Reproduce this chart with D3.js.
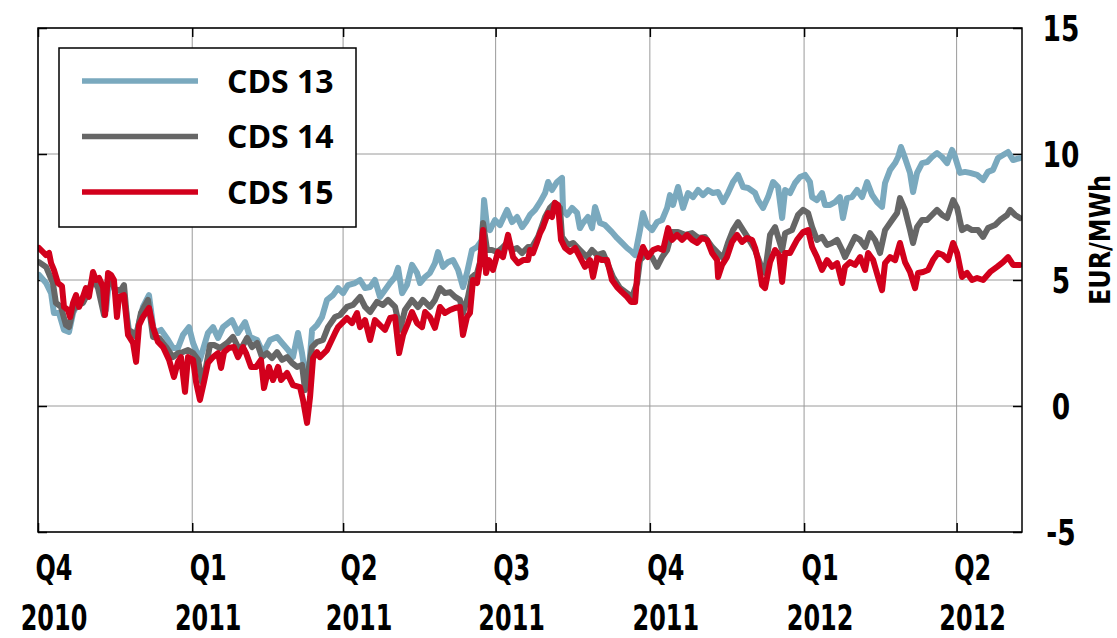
<!DOCTYPE html>
<html>
<head>
<meta charset="utf-8">
<script src="https://cdn.jsdelivr.net/npm/d3@7"></script>
<style>
body { margin: 0; background: #fff; }
svg text { font-family: "Liberation Sans Narrow", "DejaVu Sans Condensed", sans-serif; font-weight: bold; fill: #000; }
svg .legend text { font-family: "Open Sans", "Liberation Sans", sans-serif; }
</style>
</head>
<body>
<svg id="chart"></svg>
<script>
// days since 2010-10-01, EUR/MWh
let cds13 = [[0.6,5.20],[4.8,4.88],[7.8,4.48],[9.5,3.69],[12.5,3.69],[15.5,3.02],[18.5,2.94],[20.9,3.69],[23.9,4.09],[27.4,4.21],[30.4,4.60],[33.4,5.00],[36.4,4.72],[40.6,3.81],[42.4,5.00],[46.5,4.52],[50.7,4.52],[54.3,3.02],[58.5,2.82],[62.6,3.93],[66.2,4.40],[69.2,2.90],[73.4,3.02],[77.6,2.62],[80.5,2.30],[83.5,2.30],[86.5,2.82],[90.1,3.13],[92.5,2.50],[96.6,1.83],[101.4,2.90],[104.4,3.13],[107.4,2.70],[110.4,3.13],[115.7,3.41],[119.3,2.90],[123.5,3.33],[126.5,2.74],[130.7,2.62],[134.2,2.10],[138.4,2.62],[142.6,2.74],[145.6,2.50],[149.2,2.22],[152.1,1.94],[155.1,2.90],[157.5,2.10],[159.3,1.31],[161.1,1.03],[163.5,3.02],[166.4,3.21],[169.4,3.53],[172.4,4.21],[176.0,4.40],[179.0,4.68],[182.0,4.48],[184.9,4.80],[189.1,4.88],[192.1,5.00],[195.1,4.68],[198.1,4.72],[201.0,5.00],[204.0,4.33],[207.0,4.60],[210.0,4.88],[213.0,5.12],[214.8,5.48],[217.2,4.48],[220.1,4.80],[223.1,5.60],[226.1,5.28],[227.9,4.88],[230.9,5.12],[233.8,5.28],[236.8,5.67],[238.6,6.11],[241.6,5.52],[244.6,5.71],[247.6,5.79],[250.6,5.40],[253.5,4.72],[255.9,5.28],[258.9,6.19],[261.9,6.31],[264.9,6.59],[266.1,8.17],[267.9,7.10],[269.6,6.98],[272.6,7.38],[275.6,7.18],[279.8,7.78],[282.8,7.30],[285.8,7.50],[288.8,7.10],[291.1,7.30],[293.5,7.58],[296.5,7.78],[299.5,8.09],[302.5,8.45],[304.3,8.89],[306.6,8.57],[309.6,8.89],[312.6,9.05],[313.2,7.78],[315.6,7.58],[318.6,7.86],[321.6,7.66],[323.3,7.06],[325.1,7.26],[328.1,7.50],[330.5,7.06],[332.3,7.90],[335.3,7.26],[338.3,7.18],[342.4,6.90],[345.4,6.67],[348.4,6.47],[351.4,6.27],[354.4,6.11],[356.2,5.99],[359.1,6.98],[360.9,7.66],[363.3,7.18],[366.3,6.98],[369.3,7.30],[372.3,7.38],[375.3,7.86],[377.0,8.37],[378.8,7.98],[381.8,8.69],[384.8,7.86],[387.8,8.45],[390.8,8.29],[393.8,8.57],[396.7,8.37],[399.7,8.57],[402.7,8.45],[405.7,8.49],[408.7,8.09],[411.6,8.45],[414.6,8.89],[417.6,9.17],[420.6,8.69],[423.6,8.65],[427.8,8.45],[429.5,8.17],[432.5,7.86],[435.5,8.29],[438.5,8.89],[441.5,8.69],[443.9,7.46],[445.7,8.57],[448.6,8.45],[451.6,8.85],[454.6,9.09],[457.6,9.17],[460.5,8.89],[461.8,8.29],[464.7,8.17],[467.7,8.45],[469.5,7.98],[472.5,7.98],[475.5,8.09],[478.4,8.29],[480.2,7.46],[482.6,8.25],[485.6,8.29],[488.6,8.57],[491.6,8.29],[494.6,8.89],[497.6,8.37],[500.5,8.09],[503.5,7.90],[505.3,8.85],[508.3,9.37],[511.3,9.64],[513.1,9.88],[514.8,10.28],[517.2,9.84],[520.2,9.25],[522.0,8.49],[524.4,9.25],[527.4,9.64],[530.4,9.68],[533.3,9.88],[536.3,10.04],[539.3,9.88],[542.3,9.64],[545.3,10.16],[547.1,9.88],[550.0,9.25],[553.0,9.29],[556.0,9.25],[560.2,9.17],[563.8,8.97],[566.7,9.29],[569.7,9.37],[572.7,9.84],[575.7,9.96],[578.7,10.08],[581.7,9.76],[585.8,9.84]];

let cds14 = [[0.6,5.71],[4.8,5.52],[8.9,4.88],[10.7,4.09],[13.7,3.93],[16.7,3.21],[18.5,3.13],[20.9,3.81],[23.9,4.01],[26.8,4.09],[29.8,4.48],[32.8,5.08],[35.8,4.68],[39.4,3.61],[41.8,5.08],[46.5,4.60],[49.5,4.60],[51.3,4.80],[53.7,3.02],[56.7,2.90],[58.5,2.74],[61.4,3.69],[65.6,4.21],[68.6,2.74],[72.2,2.70],[76.4,2.34],[80.5,1.94],[83.5,2.10],[86.5,2.14],[89.5,2.22],[92.5,2.10],[95.5,1.83],[97.8,0.95],[100.2,1.55],[102.6,2.42],[105.0,2.42],[108.6,2.30],[112.8,2.50],[116.3,2.74],[119.3,2.34],[121.7,2.34],[124.7,2.70],[127.7,2.34],[130.7,2.50],[133.6,1.94],[136.6,2.10],[139.6,1.90],[142.6,2.14],[145.6,1.83],[148.6,1.94],[151.5,1.71],[154.5,1.55],[157.5,1.63],[159.3,0.63],[161.1,1.31],[163.5,2.34],[166.4,2.54],[170.0,2.62],[173.0,3.13],[177.2,3.53],[180.2,3.61],[184.3,3.93],[187.9,4.01],[192.1,4.33],[195.1,3.93],[198.1,3.73],[202.2,4.13],[205.8,4.01],[208.8,4.21],[213.0,3.93],[216.0,3.02],[218.9,3.81],[223.1,4.21],[226.7,3.93],[229.7,4.21],[233.8,3.93],[236.8,4.21],[239.8,4.68],[242.8,4.48],[245.8,4.52],[248.8,4.33],[251.7,4.21],[253.5,3.69],[256.5,4.33],[258.9,5.12],[261.9,5.28],[263.7,5.71],[265.5,7.26],[267.9,6.19],[270.8,6.19],[273.8,6.11],[276.8,6.27],[279.8,6.47],[282.8,6.19],[285.8,6.27],[288.8,6.07],[292.3,6.31],[294.7,6.31],[298.3,6.71],[302.5,7.50],[305.4,7.86],[308.4,8.06],[311.4,7.86],[312.6,6.71],[316.2,6.39],[319.2,6.47],[323.3,6.19],[327.5,5.91],[330.5,6.19],[333.5,5.99],[337.1,6.07],[340.1,5.60],[343.0,5.12],[347.2,4.68],[351.4,4.48],[354.4,4.33],[357.4,4.88],[359.1,5.79],[363.3,6.07],[366.3,5.91],[369.3,5.52],[372.3,5.91],[375.3,6.19],[378.2,6.90],[381.8,6.90],[386.0,6.79],[390.2,6.86],[393.8,6.67],[397.9,6.71],[402.1,6.31],[405.7,6.07],[408.7,5.87],[411.6,6.47],[414.6,6.98],[417.6,7.30],[420.6,6.98],[423.6,6.67],[427.8,6.19],[430.7,5.67],[433.7,5.28],[436.7,6.79],[439.7,7.10],[443.9,6.19],[445.7,6.86],[449.8,6.98],[453.4,7.58],[456.4,7.78],[459.4,7.66],[461.8,7.10],[464.7,6.59],[467.7,6.71],[470.7,6.39],[473.7,6.47],[476.7,6.59],[479.7,6.19],[481.4,5.91],[484.4,6.31],[487.4,6.71],[490.4,6.59],[493.4,6.31],[496.3,6.86],[499.3,6.59],[502.3,6.07],[505.3,6.98],[509.5,7.38],[512.5,7.66],[514.2,8.25],[517.2,7.78],[520.2,6.98],[522.0,6.47],[524.4,7.10],[527.4,7.38],[530.4,7.38],[533.3,7.58],[536.3,7.78],[539.3,7.58],[542.3,7.46],[545.9,8.17],[548.3,7.86],[551.2,6.98],[554.2,7.10],[557.2,6.98],[560.8,6.98],[563.8,6.71],[566.7,7.06],[570.9,7.18],[573.9,7.38],[578.1,7.58],[579.9,7.78],[582.9,7.58],[585.8,7.46]];

let cds15 = [[0.6,6.27],[4.8,5.99],[6.6,6.07],[7.8,5.67],[9.5,5.40],[11.9,4.88],[14.3,4.76],[15.5,3.93],[17.9,3.81],[19.1,3.53],[20.9,4.09],[22.7,4.40],[24.5,3.93],[26.8,4.33],[28.6,4.68],[30.4,4.33],[32.8,5.32],[34.6,5.00],[36.4,5.08],[38.8,4.72],[40.0,3.61],[41.8,5.28],[43.6,5.20],[45.3,5.00],[47.1,3.53],[48.3,4.33],[51.3,4.40],[53.7,2.82],[56.7,2.50],[58.5,1.75],[60.3,3.21],[62.6,3.53],[66.2,3.89],[68.6,3.13],[71.6,2.54],[74.6,2.34],[78.2,1.83],[81.1,1.15],[83.5,1.75],[85.3,1.94],[87.7,0.56],[89.5,1.94],[92.5,1.83],[94.3,0.95],[96.6,0.24],[99.0,0.95],[101.4,1.71],[104.4,1.94],[107.4,2.10],[109.2,1.51],[111.0,2.14],[113.9,2.30],[116.9,2.34],[119.3,1.94],[122.3,2.34],[124.1,2.10],[127.1,1.55],[130.1,1.55],[133.0,1.83],[134.8,0.71],[137.8,1.55],[140.2,1.03],[143.2,1.55],[145.0,1.03],[148.6,1.31],[152.1,0.83],[156.3,0.75],[158.1,0.24],[160.5,-0.67],[162.3,0.36],[164.1,1.90],[166.4,2.14],[168.2,1.94],[172.4,2.22],[177.2,2.90],[179.0,3.13],[184.3,3.49],[187.3,3.29],[190.3,3.69],[192.1,3.13],[195.1,3.41],[198.1,2.62],[201.0,3.41],[204.0,3.21],[207.0,3.02],[210.0,3.49],[213.0,3.53],[215.4,2.10],[217.8,2.82],[220.7,3.29],[223.1,3.73],[226.1,3.29],[229.1,3.13],[230.9,3.73],[233.8,3.53],[236.8,3.10],[239.8,3.93],[242.8,3.69],[245.8,3.81],[248.8,3.89],[251.7,3.93],[253.5,2.82],[255.9,3.53],[257.7,3.69],[259.5,5.00],[261.9,4.88],[263.7,5.67],[265.5,6.98],[267.3,5.28],[269.1,5.79],[271.4,5.40],[274.4,6.11],[277.4,5.91],[280.4,6.79],[283.4,5.91],[286.4,5.67],[289.4,5.79],[292.3,5.79],[293.5,6.19],[295.3,6.07],[297.7,6.51],[299.5,6.86],[301.3,7.10],[304.3,7.66],[306.6,7.50],[308.4,8.06],[310.2,7.98],[312.0,6.59],[314.4,6.27],[317.4,6.11],[320.4,6.27],[323.3,5.91],[326.3,5.52],[329.3,5.79],[331.1,5.12],[333.5,5.87],[336.5,5.79],[339.5,5.79],[342.4,5.00],[345.4,4.72],[348.4,4.52],[351.4,4.33],[353.8,4.13],[356.2,4.13],[358.0,5.67],[360.9,6.31],[363.9,5.91],[366.9,6.19],[369.9,6.27],[372.9,6.19],[375.9,7.06],[378.2,6.59],[381.2,6.79],[384.2,6.59],[387.2,6.79],[390.2,6.59],[393.2,6.47],[396.1,6.67],[399.1,6.59],[402.1,6.07],[405.1,5.79],[405.7,5.12],[408.1,5.60],[411.0,5.91],[414.0,6.51],[417.0,6.79],[420.0,6.51],[423.0,6.67],[426.0,6.59],[427.8,6.27],[429.5,5.79],[431.9,4.80],[433.7,4.68],[436.7,5.71],[439.7,6.19],[442.1,5.99],[443.9,4.92],[445.7,6.07],[448.6,6.07],[452.8,6.59],[456.4,6.90],[459.4,6.98],[461.8,6.31],[464.7,5.91],[467.7,5.40],[470.7,5.79],[473.7,5.52],[476.7,5.67],[479.7,4.88],[481.4,5.52],[484.4,5.71],[487.4,5.60],[490.4,5.91],[493.4,5.40],[495.2,6.07],[498.2,5.79],[501.1,5.12],[503.5,4.60],[505.3,5.67],[508.3,5.91],[511.3,5.79],[514.2,6.47],[517.2,5.71],[520.2,5.32],[523.2,4.68],[525.0,5.28],[528.0,5.32],[531.0,5.40],[533.9,5.79],[536.9,6.07],[539.9,5.99],[542.9,5.79],[545.9,6.47],[548.3,6.07],[551.2,5.12],[554.2,5.28],[557.2,5.00],[560.2,5.08],[563.8,5.00],[568.0,5.32],[572.1,5.52],[575.7,5.71],[578.7,5.91],[581.7,5.60],[585.8,5.60]];

let seriesNames = ["CDS 13", "CDS 14", "CDS 15"];
let seriesColors = ["#7aa9be", "#666666", "#d2001c"];
let seriesData = [cds13, cds14, cds15];

let quarterStarts = ["2010-10-01", "2011-01-01", "2011-04-01", "2011-07-01", "2011-10-01", "2012-01-01", "2012-04-01"];
let quarterLabels = ["Q4", "Q1", "Q2", "Q3", "Q4", "Q1", "Q2"];
let yearLabels = ["2010", "2011", "2011", "2011", "2011", "2012", "2012"];
let yTicks = [-5, 0, 5, 10, 15];

let startDate = new Date(2010, 9, 1);
let endDate = new Date(2012, 4, 10);

let width = 1117;
let height = 638;
let plotLeft = 38, plotRight = 1022, plotTop = 28, plotBottom = 532;

let svg = d3.select("#chart").attr("width", width).attr("height", height);

let toDate = (d) => new Date(startDate.getTime() + d * 86400000);
let parse = d3.timeParse("%Y-%m-%d");

let xScale = d3.scaleTime().domain([startDate, endDate]).range([plotLeft, plotRight]);
let yScale = d3.scaleLinear().domain([-5, 15]).range([plotBottom, plotTop]);

// grid
let grid = svg.append("g");
grid.selectAll("line.gy")
    .data(yTicks)
    .enter()
    .append("line")
    .attr("x1", plotLeft).attr("x2", plotRight)
    .attr("y1", (d) => yScale(d)).attr("y2", (d) => yScale(d))
    .attr("stroke", "#9a9a9a").attr("stroke-width", 1);
grid.selectAll("line.gx")
    .data(quarterStarts)
    .enter()
    .append("line")
    .attr("x1", (d) => xScale(parse(d))).attr("x2", (d) => xScale(parse(d)))
    .attr("y1", plotTop).attr("y2", plotBottom)
    .attr("stroke", "#9a9a9a").attr("stroke-width", 1);

// inward ticks on all four sides
let tickLen = 9;
svg.append("g").attr("transform", "translate(" + plotLeft + ",0)")
    .call(d3.axisRight(yScale).tickValues(yTicks).tickSize(tickLen).tickFormat(""))
    .call((g) => g.select(".domain").remove());
svg.append("g").attr("transform", "translate(" + plotRight + ",0)")
    .call(d3.axisLeft(yScale).tickValues(yTicks).tickSize(tickLen).tickFormat(""))
    .call((g) => g.select(".domain").remove());
svg.append("g").attr("transform", "translate(0," + plotBottom + ")")
    .call(d3.axisTop(xScale).tickValues(quarterStarts.map(parse)).tickSize(tickLen).tickFormat(""))
    .call((g) => g.select(".domain").remove());
svg.append("g").attr("transform", "translate(0," + plotTop + ")")
    .call(d3.axisBottom(xScale).tickValues(quarterStarts.map(parse)).tickSize(tickLen).tickFormat(""))
    .call((g) => g.select(".domain").remove());
svg.selectAll(".tick line").attr("stroke", "#000").attr("stroke-width", 1.5);

// lines
svg.append("clipPath").attr("id", "plot")
    .append("rect").attr("x", plotLeft).attr("y", plotTop).attr("width", plotRight - plotLeft).attr("height", plotBottom - plotTop);

let line = d3.line()
    .x((d) => xScale(toDate(d[0])))
    .y((d) => yScale(d[1]));

svg.append("g").attr("clip-path", "url(#plot)")
    .selectAll("path")
    .data(seriesData)
    .enter()
    .append("path")
    .attr("d", (d) => line(d))
    .attr("fill", "none")
    .attr("stroke", (d, i) => seriesColors[i])
    .attr("stroke-width", 6)
    .attr("stroke-linejoin", "round")
    .attr("stroke-linecap", "round");

// frame
svg.append("rect")
    .attr("x", plotLeft).attr("y", plotTop).attr("width", plotRight - plotLeft).attr("height", plotBottom - plotTop)
    .attr("fill", "none").attr("stroke", "#000").attr("stroke-width", 1.5);

// y labels on the right (condensed face)
svg.selectAll("text.ylab")
    .data(yTicks)
    .enter()
    .append("text")
    .attr("transform", (d) => "translate(1061," + yScale(d) + ") scale(0.84,1)")
    .attr("dy", "0.36em")
    .attr("text-anchor", "middle")
    .style("font-size", "35px")
    .text((d) => d);

svg.append("text")
    .attr("transform", "translate(1110,240) rotate(-90) scale(0.95,1)")
    .attr("text-anchor", "middle")
    .style("font-size", "28px")
    .text("EUR/MWh");

// x labels
svg.selectAll("text.q")
    .data(quarterStarts)
    .enter()
    .append("text")
    .attr("transform", (d) => "translate(" + (xScale(parse(d)) + 16) + ",580) scale(0.76,1)")
    .attr("text-anchor", "middle")
    .style("font-size", "35px")
    .text((d, i) => quarterLabels[i]);

svg.selectAll("text.yr")
    .data(quarterStarts)
    .enter()
    .append("text")
    .attr("transform", (d) => "translate(" + (xScale(parse(d)) + 16) + ",630) scale(0.76,1)")
    .attr("text-anchor", "middle")
    .style("font-size", "35px")
    .text((d, i) => yearLabels[i]);

// legend
let legend = svg.append("g").attr("class", "legend");
legend.append("rect")
    .attr("x", 59).attr("y", 48).attr("width", 297).attr("height", 179)
    .attr("fill", "#fff").attr("stroke", "#000").attr("stroke-width", 1.5);
let items = legend.selectAll("g.item")
    .data(seriesNames)
    .enter()
    .append("g")
    .attr("transform", (d, i) => "translate(0," + (81 + i * 55.5) + ")");
items.append("line")
    .attr("x1", 82).attr("x2", 198)
    .attr("stroke", (d, i) => seriesColors[i])
    .attr("stroke-width", 5.5);
items.append("text")
    .attr("x", 227)
    .attr("dy", "0.36em")
    .style("font-size", "32px")
    .text((d) => d);
</script>
</body>
</html>
